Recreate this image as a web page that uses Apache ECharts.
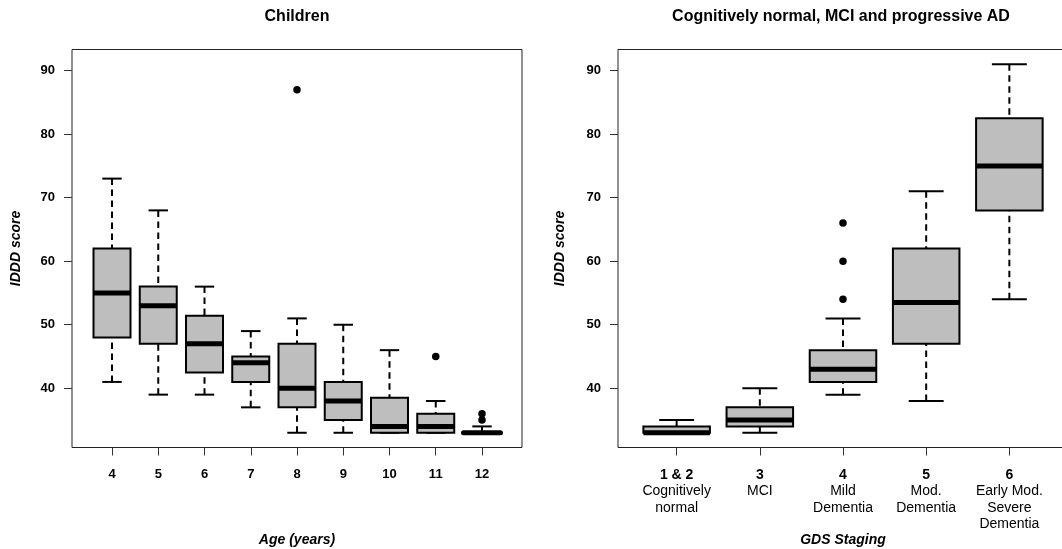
<!DOCTYPE html>
<html><head><meta charset="utf-8">
<script src="https://cdn.jsdelivr.net/npm/echarts@6/dist/echarts.min.js"></script>
<style>html,body{margin:0;padding:0;background:#fff}#c{width:1062px;height:549px}</style>
</head><body><div id="c"></div>
<script>
// ---- Data: Children (IDDD score by age) ----
const ageCats = ['4','5','6','7','8','9','10','11','12'];
const ageLow  = [41, 39, 39,   37, 33, 33, 33,   33, 33];
const ageQ1   = [48, 47, 42.5, 41, 37, 35, 33,   33, 33];
const ageMed  = [55, 53, 47,   44, 40, 38, 34,   34, 33];
const ageQ3   = [62, 56, 51.4, 45, 47, 41, 38.5, 36, 33];
const ageHigh = [73, 68, 56,   49, 51, 50, 46,   38, 34];
const ageOutCat = ['8', '11', '12', '12'];
const ageOutVal = [87, 45, 35, 36];

// ---- Data: GDS staging ----
const gdsStage = ['1 & 2', '3', '4', '5', '6'];
const gdsDesc  = ['Cognitively\nnormal', 'MCI', 'Mild\nDementia', 'Mod.\nDementia', 'Early Mod.\nSevere\nDementia'];
const gdsLow  = [33, 33, 39, 38,   54];
const gdsQ1   = [33, 34, 41, 47,   68];
const gdsMed  = [33, 35, 43, 53.5, 75];
const gdsQ3   = [34, 37, 46, 62,   82.5];
const gdsHigh = [35, 40, 51, 71,   91];
const gdsOutCat = ['4', '4', '4'];
const gdsOutVal = [54, 60, 66];

const yTicks = [40, 50, 60, 70, 80, 90];
const titles = ['Children', 'Cognitively normal, MCI and progressive AD'];
const yName = 'IDDD score';
const xNames = ['Age (years)', 'GDS Staging'];

const FONT = '"Liberation Sans", Arial, Helvetica, sans-serif';

function renderBox(params, api) {
  const x = api.value(0);
  const lo = api.value(1), q1 = api.value(2), md = api.value(3), q3 = api.value(4), hi = api.value(5);
  const unit = api.size([1, 0])[0];
  const half = unit * 0.4, st = unit * 0.21;
  const pLo = api.coord([x, lo]), pQ1 = api.coord([x, q1]), pMd = api.coord([x, md]);
  const pQ3 = api.coord([x, q3]), pHi = api.coord([x, hi]);
  const cx = pLo[0];
  const dash = {stroke: '#000', lineWidth: 2, lineDash: [6.5, 4.5], fill: null};
  const solid = {stroke: '#000', lineWidth: 2, fill: null};
  const ch = [];
  if (hi > q3) ch.push({type: 'line', shape: {x1: cx, y1: pHi[1], x2: cx, y2: pQ3[1]}, style: dash});
  if (lo < q1) ch.push({type: 'line', shape: {x1: cx, y1: pLo[1], x2: cx, y2: pQ1[1]}, style: dash});
  ch.push({type: 'line', shape: {x1: cx - st, y1: pHi[1], x2: cx + st, y2: pHi[1]}, style: solid});
  ch.push({type: 'line', shape: {x1: cx - st, y1: pLo[1], x2: cx + st, y2: pLo[1]}, style: solid});
  ch.push({type: 'rect', shape: {x: cx - half, y: pQ3[1], width: 2 * half, height: pQ1[1] - pQ3[1]},
           style: {fill: '#bebebe', stroke: '#000', lineWidth: 2}});
  ch.push({type: 'line', shape: {x1: cx - half, y1: pMd[1], x2: cx + half, y2: pMd[1]},
           style: {stroke: '#000', lineWidth: 5, lineCap: (q1 === q3 ? 'round' : 'butt')}});
  return {type: 'group', children: ch};
}

const ageBoxData = ageCats.map((c, i) => [i + 1, ageLow[i], ageQ1[i], ageMed[i], ageQ3[i], ageHigh[i]]);
const gdsBoxData = gdsStage.map((c, i) => [i + 1, gdsLow[i], gdsQ1[i], gdsMed[i], gdsQ3[i], gdsHigh[i]]);
const ageOutData = ageOutCat.map((c, i) => [ageCats.indexOf(c) + 1, ageOutVal[i]]);
const gdsOutData = gdsOutCat.map((c, i) => [gdsStage.indexOf(c) + 1, gdsOutVal[i]]);

function yAxisCfg(gi, gap) {
  return {
    type: 'value', gridIndex: gi, min: 30.68, max: 93.32,
    axisLine: {show: false}, splitLine: {show: false},
    axisTick: {show: true, length: 8, customValues: yTicks, lineStyle: {color: '#333', width: 1}},
    axisLabel: {customValues: yTicks, margin: 17, color: '#000', fontWeight: 'bold', fontSize: 13, fontFamily: FONT},
    name: yName, nameLocation: 'middle', nameRotate: 90, nameGap: gap, nameMoveOverlap: false,
    nameTextStyle: {fontWeight: 'bold', fontStyle: 'italic', fontSize: 14, color: '#000', fontFamily: FONT}
  };
}

const ageIdx = ageCats.map((c, i) => i + 1);
const gdsIdx = gdsStage.map((c, i) => i + 1);

const option = {
  animation: false,
  backgroundColor: '#fff',
  graphic: [
    {type: 'text', x: 297, y: 17, style: {text: titles[0], textAlign: 'center', textVerticalAlign: 'middle',
      font: 'bold 16px ' + FONT, fill: '#000'}},
    {type: 'text', x: 841, y: 17, style: {text: titles[1], textAlign: 'center', textVerticalAlign: 'middle',
      font: 'bold 16px ' + FONT, fill: '#000'}}
  ],
  grid: [
    {left: 72, top: 49.5, width: 450, height: 398, show: true, borderColor: '#222', borderWidth: 1,
     backgroundColor: 'transparent', containLabel: false, outerBoundsMode: 'none'},
    {left: 618, top: 49.5, width: 450, height: 398, show: true, borderColor: '#222', borderWidth: 1,
     backgroundColor: 'transparent', containLabel: false, outerBoundsMode: 'none'}
  ],
  xAxis: [
    {type: 'value', gridIndex: 0, min: 0.135, max: 9.865,
     axisLine: {show: false}, splitLine: {show: false},
     axisTick: {show: true, length: 8, customValues: ageIdx, lineStyle: {color: '#333', width: 1}},
     axisLabel: {customValues: ageIdx, margin: 20, color: '#000', fontWeight: 'bold', fontSize: 13, fontFamily: FONT,
       formatter: v => ageCats[Math.round(v) - 1] || ''},
     name: xNames[0], nameLocation: 'middle', nameGap: 86, nameMoveOverlap: false,
     nameTextStyle: {fontWeight: 'bold', fontStyle: 'italic', fontSize: 14, color: '#000', fontFamily: FONT}},
    {type: 'value', gridIndex: 1, min: 0.295, max: 5.705,
     axisLine: {show: false}, splitLine: {show: false},
     axisTick: {show: true, length: 8, customValues: gdsIdx, lineStyle: {color: '#333', width: 1}},
     axisLabel: {customValues: gdsIdx, margin: 19.5, color: '#000', fontFamily: FONT,
       formatter: v => {
         const i = Math.round(v) - 1;
         if (i < 0 || i >= gdsStage.length) return '';
         return '{b|' + gdsStage[i] + '}\n' + gdsDesc[i].split('\n').map(s => '{n|' + s + '}').join('\n');
       },
       rich: {
         b: {fontWeight: 'bold', fontSize: 14, lineHeight: 16.3, color: '#000', fontFamily: FONT},
         n: {fontSize: 14, lineHeight: 16.3, color: '#000', fontFamily: FONT}
       }},
     name: xNames[1], nameLocation: 'middle', nameGap: 86, nameMoveOverlap: false,
     nameTextStyle: {fontWeight: 'bold', fontStyle: 'italic', fontSize: 14, color: '#000', fontFamily: FONT}}
  ],
  yAxis: [yAxisCfg(0, 49), yAxisCfg(1, 51)],
  series: [
    {type: 'custom', xAxisIndex: 0, yAxisIndex: 0, renderItem: renderBox, data: ageBoxData,
     encode: {x: 0, y: [1, 2, 3, 4, 5]}, silent: true},
    {type: 'scatter', xAxisIndex: 0, yAxisIndex: 0, data: ageOutData, symbol: 'circle', symbolSize: 7.5,
     itemStyle: {color: '#000', opacity: 1}, silent: true},
    {type: 'custom', xAxisIndex: 1, yAxisIndex: 1, renderItem: renderBox, data: gdsBoxData,
     encode: {x: 0, y: [1, 2, 3, 4, 5]}, silent: true},
    {type: 'scatter', xAxisIndex: 1, yAxisIndex: 1, data: gdsOutData, symbol: 'circle', symbolSize: 7.5,
     itemStyle: {color: '#000', opacity: 1}, silent: true}
  ]
};

const chart = echarts.init(document.getElementById('c'), null, {renderer: 'canvas'});
chart.setOption(option);
</script>
</body></html>
